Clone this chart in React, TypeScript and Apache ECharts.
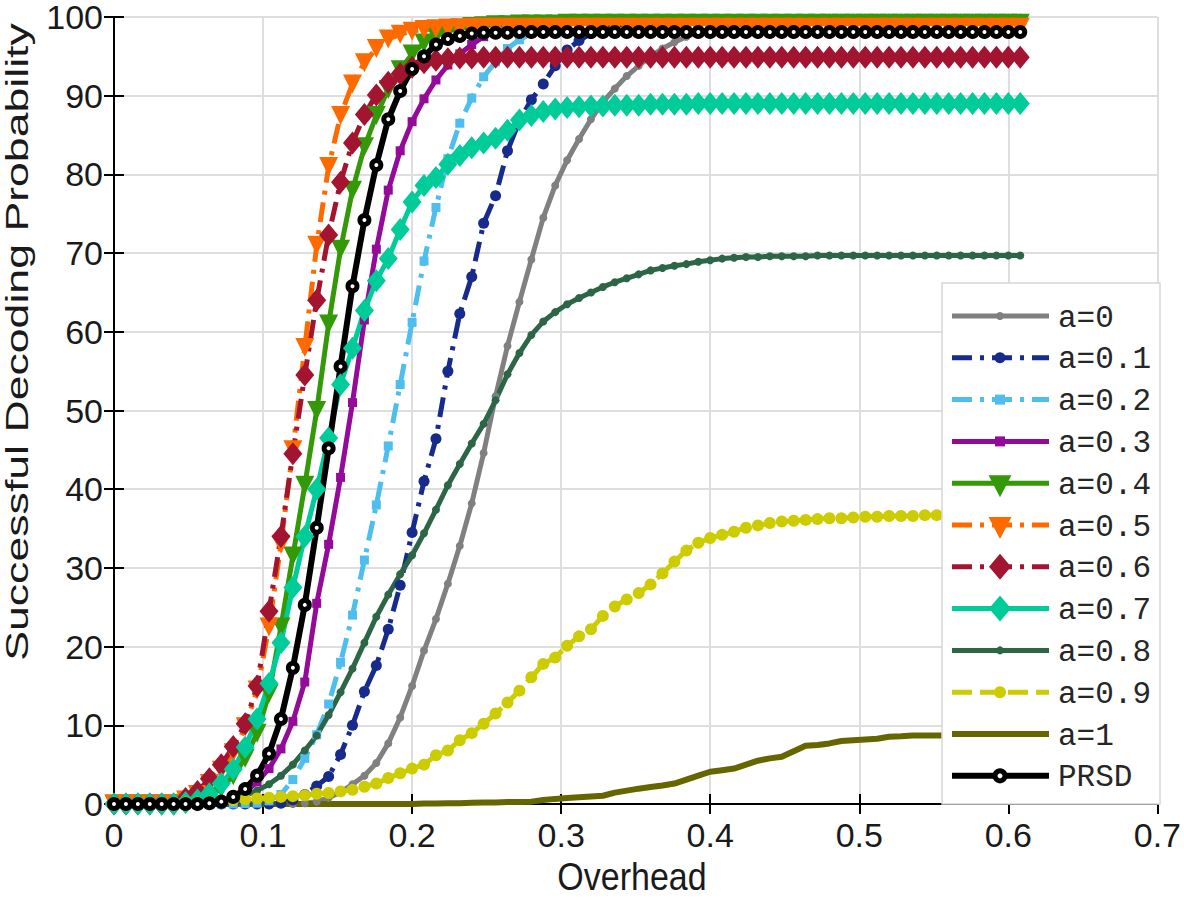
import React, { useEffect, useRef } from "react";
import * as echarts from "echarts";

const overhead = [
  0, 0.008, 0.016, 0.024, 0.032, 0.04, 0.048, 0.056, 0.064, 0.072,
  0.08, 0.088, 0.096, 0.104, 0.112, 0.12, 0.128, 0.136, 0.144, 0.152,
  0.16, 0.168, 0.176, 0.184, 0.192, 0.2, 0.208, 0.216, 0.224, 0.232,
  0.24, 0.248, 0.256, 0.264, 0.272, 0.28, 0.288, 0.296, 0.304, 0.312,
  0.32, 0.328, 0.336, 0.344, 0.352, 0.36, 0.368, 0.376, 0.384, 0.392,
  0.4, 0.408, 0.416, 0.424, 0.432, 0.44, 0.448, 0.456, 0.464, 0.472,
  0.48, 0.488, 0.496, 0.504, 0.512, 0.52, 0.528, 0.536, 0.544, 0.552,
  0.56, 0.568, 0.576, 0.584, 0.592, 0.6, 0.608,
];

const a0 = [
  0, 0, 0, 0, 0, 0, 0, 0, 0, 0,
  0, 0, 0, 0, 0, 0, 0.1, 0.3, 0.8, 1.5,
  2.5, 3.6, 5.2, 7.7, 11.0, 15.0, 19.5, 23.5, 28.0, 32.8,
  38.2, 44.6, 51.8, 58.2, 63.8, 69.2, 74.5, 78.6, 81.8, 84.5,
  87.0, 89.2, 90.9, 92.5, 93.8, 95.0, 96.0, 96.8, 97.5, 98.0,
  98.4, 98.7, 98.9, 99.1, 99.2, 99.3, 99.3, 99.4, 99.4, 99.4,
  99.5, 99.5, 99.5, 99.5, 99.5, 99.5, 99.5, 99.5, 99.5, 99.5,
  99.5, 99.5, 99.5, 99.5, 99.5, 99.5, 99.5,
];
const a01 = [
  0, 0, 0, 0, 0, 0, 0, 0, 0, 0,
  0, 0, 0, 0, 0.1, 0.5, 1.2, 2.3, 3.5, 6.3,
  10.0, 14.3, 17.6, 22.2, 27.8, 34.5, 41.0, 46.4, 55.0, 62.3,
  67.0, 73.8, 77.3, 83.0, 86.8, 89.5, 91.5, 93.8, 95.8, 97.0,
  97.9, 98.5, 98.9, 99.1, 99.3, 99.4, 99.5, 99.5, 99.6, 99.6,
  99.6, 99.6, 99.6, 99.6, 99.6, 99.6, 99.6, 99.6, 99.6, 99.6,
  99.7, 99.7, 99.7, 99.7, 99.7, 99.7, 99.7, 99.7, 99.7, 99.7,
  99.7, 99.7, 99.7, 99.7, 99.7, 99.7, 99.7,
];
const a02 = [
  0, 0, 0, 0, 0, 0, 0, 0, 0, 0,
  0, 0.05, 0.1, 0.4, 1.2, 3.1, 5.8, 8.8, 12.7, 18.0,
  24.0, 31.0, 38.0, 45.5, 53.3, 61.2, 69.0, 75.8, 82.0, 86.5,
  89.7, 92.4, 94.3, 96.0, 97.1, 97.9, 98.5, 98.9, 99.2, 99.4,
  99.5, 99.5, 99.6, 99.6, 99.7, 99.7, 99.7, 99.7, 99.8, 99.8,
  99.8, 99.8, 99.8, 99.8, 99.8, 99.8, 99.8, 99.8, 99.8, 99.8,
  99.8, 99.8, 99.8, 99.8, 99.8, 99.8, 99.8, 99.8, 99.8, 99.8,
  99.8, 99.8, 99.8, 99.8, 99.8, 99.8, 99.8,
];
const a03 = [
  0, 0, 0, 0, 0, 0, 0, 0, 0.1, 0.3,
  0.8, 1.5, 2.8, 4.5, 7.0, 10.5, 15.5, 25.5, 33.0, 41.5,
  51.0, 61.5, 70.5, 78.0, 83.0, 86.7, 89.6, 92.0, 93.9, 95.3,
  96.5, 97.5, 98.1, 98.6, 99.0, 99.2, 99.3, 99.4, 99.4, 99.5,
  99.5, 99.5, 99.5, 99.5, 99.5, 99.5, 99.5, 99.5, 99.5, 99.5,
  99.5, 99.5, 99.5, 99.5, 99.5, 99.5, 99.5, 99.5, 99.5, 99.5,
  99.6, 99.6, 99.6, 99.6, 99.6, 99.6, 99.6, 99.6, 99.6, 99.6,
  99.6, 99.6, 99.6, 99.6, 99.6, 99.6, 99.6,
];
const a04 = [
  0, 0, 0, 0, 0, 0, 0.1, 0.3, 1.0, 2.0,
  3.6, 5.8, 9.0, 14.0, 22.5, 31.5, 40.5, 50.0, 61.0, 70.5,
  78.0, 83.5, 87.5, 90.8, 93.3, 95.3, 96.7, 97.6, 98.2, 98.6,
  98.8, 98.9, 99.0, 99.0, 99.1, 99.1, 99.1, 99.1, 99.2, 99.2,
  99.2, 99.2, 99.2, 99.2, 99.2, 99.2, 99.2, 99.2, 99.2, 99.2,
  99.2, 99.2, 99.2, 99.2, 99.2, 99.2, 99.2, 99.2, 99.2, 99.2,
  99.2, 99.2, 99.2, 99.2, 99.2, 99.2, 99.2, 99.2, 99.2, 99.2,
  99.2, 99.2, 99.2, 99.2, 99.2, 99.2, 99.2,
];
const a05 = [
  0, 0, 0, 0, 0, 0, 0.5, 1.2, 2.6, 4.3,
  6.5, 9.8, 14.5, 22.5, 33.0, 45.0, 58.0, 71.0, 81.0, 87.5,
  91.5, 94.2, 96.0, 97.2, 97.8, 98.2, 98.4, 98.5, 98.6, 98.6,
  98.7, 98.7, 98.7, 98.7, 98.7, 98.7, 98.7, 98.7, 98.7, 98.7,
  98.7, 98.7, 98.7, 98.7, 98.7, 98.7, 98.7, 98.7, 98.7, 98.7,
  98.7, 98.7, 98.7, 98.7, 98.7, 98.7, 98.7, 98.7, 98.7, 98.7,
  98.7, 98.7, 98.7, 98.7, 98.7, 98.7, 98.7, 98.7, 98.7, 98.7,
  98.7, 98.7, 98.7, 98.7, 98.7, 98.7, 98.7,
];
const a06 = [
  0, 0, 0, 0, 0, 0, 0.7, 1.6, 3.2, 5.0,
  7.3, 10.2, 15.0, 24.5, 34.0, 44.5, 54.5, 64.0, 72.3, 79.0,
  84.0, 87.6, 90.1, 91.7, 92.8, 93.6, 94.2, 94.5, 94.7, 94.8,
  94.8, 94.9, 94.9, 94.9, 94.9, 94.9, 94.9, 94.9, 94.9, 94.9,
  94.9, 94.9, 94.9, 94.9, 94.9, 94.9, 94.9, 94.9, 94.9, 94.9,
  94.9, 94.9, 94.9, 94.9, 94.9, 94.9, 94.9, 94.9, 94.9, 94.9,
  94.9, 94.9, 94.9, 94.9, 94.9, 94.9, 94.9, 94.9, 94.9, 94.9,
  94.9, 94.9, 94.9, 94.9, 94.9, 94.9, 94.9,
];
const a07 = [
  0, 0, 0, 0, 0, 0, 0.2, 0.5, 1.3, 2.6,
  4.4, 7.2, 10.8, 15.3, 20.5, 27.5, 34.0, 40.0, 46.5, 53.3,
  57.9, 62.7, 66.5, 69.3, 73.0, 76.5, 78.6, 79.6, 81.3, 82.4,
  83.4, 84.0, 84.6, 85.6, 86.9, 87.5, 88.0, 88.3, 88.5, 88.6,
  88.7, 88.7, 88.8, 88.8, 88.8, 88.9, 88.9, 88.9, 88.9, 89.0,
  89.0, 89.0, 89.0, 89.0, 89.0, 89.0, 89.0, 89.0, 89.0, 89.0,
  89.0, 89.0, 89.0, 89.0, 89.0, 89.0, 89.0, 89.0, 89.0, 89.0,
  89.0, 89.0, 89.0, 89.0, 89.0, 89.0, 89.0,
];
const a08 = [
  0, 0, 0, 0, 0, 0, 0, 0.1, 0.2, 0.4,
  0.7, 1.1, 1.7, 2.5, 3.6, 5.0, 6.8, 8.7, 11.3, 14.2,
  17.2, 20.5, 23.8, 26.6, 29.2, 31.6, 34.4, 37.4, 40.5, 43.2,
  45.8, 48.3, 51.3, 54.6, 57.3, 59.6, 61.3, 62.5, 63.5, 64.3,
  65.0, 65.7, 66.3, 66.8, 67.3, 67.8, 68.1, 68.4, 68.6, 68.9,
  69.1, 69.3, 69.4, 69.5, 69.5, 69.6, 69.6, 69.6, 69.6, 69.7,
  69.7, 69.7, 69.7, 69.7, 69.7, 69.7, 69.7, 69.7, 69.7, 69.7,
  69.7, 69.7, 69.7, 69.7, 69.7, 69.7, 69.7,
];
const a09 = [
  0, 0, 0, 0.05, 0.1, 0.1, 0.2, 0.2, 0.3, 0.4,
  0.5, 0.6, 0.7, 0.8, 0.9, 1.0, 1.1, 1.3, 1.4, 1.6,
  1.8, 2.2, 2.6, 3.3, 3.9, 4.5, 5.0, 6.2, 6.8, 8.1,
  9.0, 10.2, 11.5, 12.9, 14.4, 16.1, 17.8, 18.6, 20.1, 21.3,
  22.2, 23.9, 25.1, 26.0, 26.8, 27.9, 29.3, 30.8, 32.2, 33.2,
  33.8, 34.2, 34.6, 35.1, 35.4, 35.7, 35.9, 36.0, 36.1, 36.2,
  36.3, 36.3, 36.4, 36.5, 36.5, 36.6, 36.6, 36.6, 36.7, 36.7,
  36.7, 36.7, 36.7, 36.7, 36.7, 36.7, 36.7,
];
const a1 = [
  0, 0, 0, 0, 0, 0, 0, 0, 0, 0,
  0, 0, 0, 0, 0, 0, 0, 0, 0, 0,
  0, 0, 0, 0, 0, 0, 0.05, 0.05, 0.1, 0.1,
  0.15, 0.2, 0.2, 0.25, 0.25, 0.3, 0.5, 0.65, 0.75, 0.85,
  0.95, 1.05, 1.45, 1.7, 1.95, 2.15, 2.35, 2.6, 3.1, 3.6,
  4.1, 4.3, 4.5, 5.0, 5.5, 5.8, 6.0, 6.7, 7.4, 7.5,
  7.7, 8.0, 8.1, 8.2, 8.3, 8.55, 8.6, 8.7, 8.7, 8.7,
  8.7, 8.7, 8.7, 8.7, 8.7, 8.7, 8.7,
];
const prsd = [
  0, 0, 0, 0, 0, 0, 0, 0, 0.1, 0.3,
  0.9, 1.9, 3.6, 6.4, 10.8, 17.3, 25.3, 35.1, 45.2, 55.6,
  65.8, 74.2, 81.2, 87.0, 90.6, 93.4, 95.0, 96.5, 97.2, 97.6,
  97.9, 98.0, 98.0, 98.0, 98.1, 98.1, 98.1, 98.1, 98.1, 98.1,
  98.1, 98.1, 98.1, 98.1, 98.1, 98.1, 98.1, 98.1, 98.1, 98.1,
  98.1, 98.1, 98.1, 98.1, 98.1, 98.1, 98.1, 98.1, 98.1, 98.1,
  98.1, 98.1, 98.1, 98.1, 98.1, 98.1, 98.1, 98.1, 98.1, 98.1,
  98.1, 98.1, 98.1, 98.1, 98.1, 98.1, 98.1,
];

const seriesNames = ["a=0", "a=0.1", "a=0.2", "a=0.3", "a=0.4", "a=0.5", "a=0.6", "a=0.7", "a=0.8", "a=0.9", "a=1", "PRSD"];
const seriesData = [a0, a01, a02, a03, a04, a05, a06, a07, a08, a09, a1, prsd];
const seriesColors = ["#808080", "#172B8C", "#4DBEEE", "#940A99", "#339908", "#FF6A00", "#A2142F", "#00CC99", "#2D6647", "#CCCC00", "#666600", "#000000"];
const xTicks = [0, 0.1, 0.2, 0.3, 0.4, 0.5, 0.6, 0.7];

const DASHDOT = [20, 8, 4, 8];
const DASHED = [20, 8];

// style per series: dash, symbol kind, plot marker size, line width
const styles: any[] = [
  { dash: "solid", kind: "circle", size: 8, w: 5 },
  { dash: DASHDOT, kind: "circle", size: 11, w: 5 },
  { dash: DASHDOT, kind: "rect", size: 9, w: 5 },
  { dash: "solid", kind: "rect", size: 9, w: 5 },
  { dash: "solid", kind: "tri", size: 19, w: 5 },
  { dash: DASHDOT, kind: "tri", size: 19, w: 5 },
  { dash: DASHDOT, kind: "diamond", size: [19, 23], w: 5 },
  { dash: "solid", kind: "diamond", size: [19, 23], w: 5 },
  { dash: "solid", kind: "circle", size: 8, w: 5 },
  { dash: DASHED, kind: "circle", size: 12, w: 5 },
  { dash: "solid", kind: "none", size: 0, w: 6 },
  { dash: "solid", kind: "prsd", size: 9, w: 6 },
];

const FONT = "Liberation Sans, Arial, Helvetica, sans-serif";
const NARROW = "Liberation Sans Narrow, Arial Narrow, Liberation Sans, sans-serif";
const MONO = "Liberation Mono, Courier New, monospace";

export default function App() {
  const ref = useRef<HTMLDivElement>(null);
  useEffect(() => {
    if (!ref.current) return;
    const chart = echarts.init(ref.current, undefined, { renderer: "svg" });

    const series = seriesNames.map((name, k) => {
      const st = styles[k];
      const color = seriesColors[k];
      const symbol =
        st.kind === "tri" ? "triangle" : st.kind === "prsd" ? "circle" : st.kind;
      return {
        name,
        type: "line",
        data: overhead.map((x, i) => [x, seriesData[k][i]]),
        symbol,
        symbolSize: st.size,
        symbolRotate: st.kind === "tri" ? 180 : 0,
        showSymbol: st.kind !== "none",
        lineStyle: { color, width: st.w, type: st.dash },
        itemStyle:
          st.kind === "prsd"
            ? { color: "#ffffff", borderColor: "#000000", borderWidth: 5 }
            : { color },
        emphasis: { disabled: true },
        silent: true,
      };
    });

    // Legend drawn as graphic elements (line + marker + text per entry)
    const LX0 = 942, LY0 = 283, LW = 218, LH = 521;
    const legendEls: any[] = [
      {
        type: "rect",
        z: 100,
        shape: { x: LX0, y: LY0, width: LW, height: LH },
        style: { fill: "#ffffff", stroke: "#d6d6d6", lineWidth: 1.5 },
      },
    ];
    seriesNames.forEach((name, k) => {
      const st = styles[k];
      const color = seriesColors[k];
      const cy = 316 + 41.8 * k;
      const cx = 1000;
      legendEls.push({
        type: "line",
        z: 101,
        shape: { x1: 952, y1: cy, x2: 1049, y2: cy },
        style: {
          stroke: color,
          lineWidth: st.w,
          lineDash: Array.isArray(st.dash) ? st.dash : null,
        },
      });
      if (st.kind === "circle") {
        legendEls.push({
          type: "circle", z: 102,
          shape: { cx, cy, r: st.size / 2 },
          style: { fill: color },
        });
      } else if (st.kind === "rect") {
        legendEls.push({
          type: "rect", z: 102,
          shape: { x: cx - 5, y: cy - 5, width: 10, height: 10 },
          style: { fill: color },
        });
      } else if (st.kind === "tri") {
        legendEls.push({
          type: "polygon", z: 102,
          shape: { points: [[cx - 11.5, cy - 8], [cx + 11.5, cy - 8], [cx, cy + 14]] },
          style: { fill: color },
        });
      } else if (st.kind === "diamond") {
        legendEls.push({
          type: "polygon", z: 102,
          shape: { points: [[cx, cy - 13], [cx + 11, cy], [cx, cy + 13], [cx - 11, cy]] },
          style: { fill: color },
        });
      } else if (st.kind === "prsd") {
        legendEls.push({
          type: "circle", z: 102,
          shape: { cx, cy, r: 5 },
          style: { fill: "#ffffff", stroke: "#000000", lineWidth: 5 },
        });
      }
      legendEls.push({
        type: "text", z: 102,
        x: 1058, y: cy + 2,
        style: {
          text: name,
          fontFamily: MONO,
          fontSize: 31,
          fill: "#262626",
          textAlign: "left",
          textVerticalAlign: "middle",
        },
      });
    });

    const titles = [
      {
        type: "text",
        z: 50,
        x: 632,
        y: 877,
        scaleY: 1.15,
        style: {
          text: "Overhead",
          fontFamily: FONT,
          fontSize: 34,
          fill: "#1a1a1a",
          textAlign: "center",
          textVerticalAlign: "middle",
        },
      },
      {
        type: "text",
        z: 50,
        x: 17,
        y: 342,
        rotation: Math.PI / 2,
        scaleX: 1.44,
        style: {
          text: "Successful Decoding Probability",
          fontFamily: FONT,
          fontSize: 31,
          fill: "#1a1a1a",
          textAlign: "center",
          textVerticalAlign: "middle",
        },
      },
    ];

    const labelFont = { fontFamily: NARROW, fontSize: 34, lineHeight: 24, color: "#1a1a1a" };
    const axisLineStyle = { color: "#000", width: 2 };
    chart.setOption({
      animation: false,
      backgroundColor: "#ffffff",
      grid: { left: 114, right: 24, top: 12, bottom: 96, containLabel: false },
      xAxis: [
        {
          type: "value",
          min: 0,
          max: 0.7,
          interval: 0.1,
          axisLine: { lineStyle: axisLineStyle },
          axisTick: { inside: true, length: 10, lineStyle: axisLineStyle },
          axisLabel: {
            ...labelFont,
            margin: 19,
            formatter: (v: number) => {
              const t = xTicks.find((k) => Math.abs(k - v) < 1e-6);
              return t === undefined ? "" : String(t);
            },
          },
          splitLine: { show: true, lineStyle: { color: "#dedede", width: 2 } },
        },
        {
          type: "value",
          position: "top",
          min: 0,
          max: 0.7,
          interval: 0.1,
          axisLine: { lineStyle: axisLineStyle },
          axisTick: { inside: true, length: 10, lineStyle: axisLineStyle },
          axisLabel: { show: false },
          splitLine: { show: false },
        },
      ],
      yAxis: [
        {
          type: "value",
          min: 0,
          max: 100,
          interval: 10,
          axisLine: { lineStyle: axisLineStyle },
          axisTick: { inside: true, length: 10, lineStyle: axisLineStyle },
          axisLabel: { ...labelFont, margin: 11 },
          splitLine: { show: true, lineStyle: { color: "#dedede", width: 2 } },
        },
        {
          type: "value",
          position: "right",
          min: 0,
          max: 100,
          interval: 10,
          axisLine: { lineStyle: axisLineStyle },
          axisTick: { inside: true, length: 10, lineStyle: axisLineStyle },
          axisLabel: { show: false },
          splitLine: { show: false },
        },
      ],
      graphic: [...legendEls, ...titles],
      series,
    });
    return () => chart.dispose();
  }, []);
  return (
    <div
      ref={ref}
      style={{ position: "fixed", left: 0, top: 0, width: 1184, height: 900, background: "#fff" }}
    />
  );
}
